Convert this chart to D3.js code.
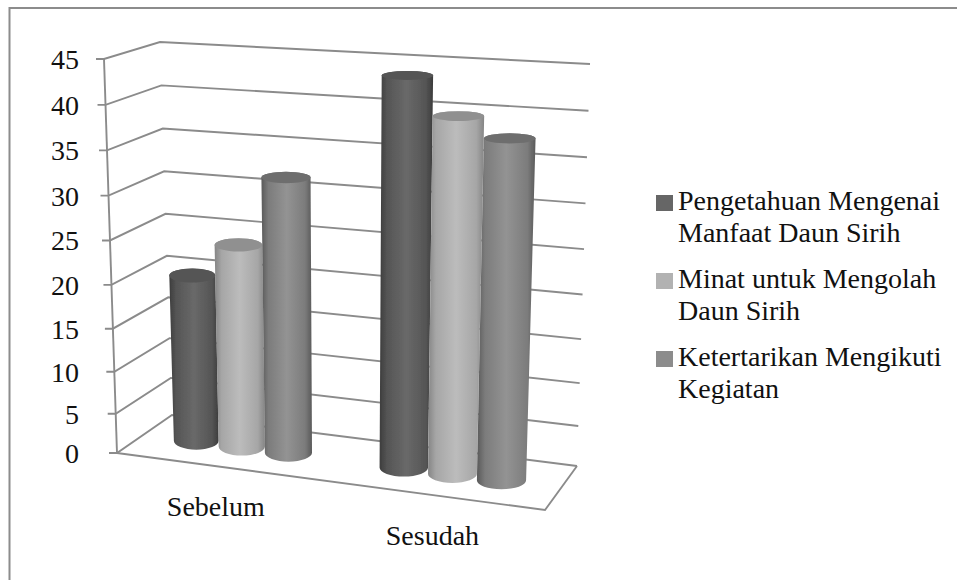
<!DOCTYPE html>
<html><head><meta charset="utf-8">
<script src="https://cdn.jsdelivr.net/npm/d3@7"></script>
<style>html,body{margin:0;padding:0;background:#fff;overflow:hidden}svg{display:block}
text{font-family:"Liberation Serif",serif;fill:#111;font-size:28px}</style>
</head><body><div id="c"></div>
<script>
const categories = ["Sebelum", "Sesudah"];
const seriesNames = ["Pengetahuan Mengenai Manfaat Daun Sirih", "Minat untuk Mengolah Daun Sirih", "Ketertarikan Mengikuti Kegiatan"];
const pengetahuan = [20, 44];
const minat = [24, 40];
const ketertarikan = [32, 38];
const tickValues = [0, 5, 10, 15, 20, 25, 30, 35, 40, 45];
const legendLines = [["Pengetahuan Mengenai", "Manfaat Daun Sirih"], ["Minat untuk Mengolah", "Daun Sirih"], ["Ketertarikan Mengikuti", "Kegiatan"]];
const seriesValues = [pengetahuan, minat, ketertarikan];
const W = 957, H = 580;
const shades = [
  {edge:"#3c3c3c", near:"#555555", mid:"#696969", top:"#555555", swatch:"#666666"},
  {edge:"#858585", near:"#a6a6a6", mid:"#bcbcbc", top:"#909090", swatch:"#b2b2b2"},
  {edge:"#5a5a5a", near:"#7c7c7c", mid:"#939393", top:"#6e6e6e", swatch:"#8c8c8c"}
];
// projected box corners
const FL=[117,453], FR=[545,510], BL=[172,415], BR=[577,466];
const TFL=[104,59], TFR=[559,87], TBL=[160,42], TBR=[590,64];
const lerp=(a,b,t)=>[a[0]+(b[0]-a[0])*t, a[1]+(b[1]-a[1])*t];
const bilerp=(a,b,c,d,u,v)=>lerp(lerp(a,b,u),lerp(c,d,u),v);
const yFrac = d3.scalePow().exponent(1.05).domain([0,45]).range([0,1]);
const uWarp = d3.scalePow().exponent(1.05).domain([0,1]).range([0,1]);
const xCat = d3.scaleBand().domain(categories).range([0,1]);
const xSer = d3.scaleBand().domain(seriesNames).range([-0.17,0.17]);
const project=(t,v,val)=>{const u=uWarp(t);return lerp(bilerp(FL,FR,BL,BR,u,v),bilerp(TFL,TFR,TBL,TBR,u,v),yFrac(val));};
const ryScale = d3.scaleLinear().domain([0,45]).range([9,4.4]);

const svg=d3.select("#c").append("svg").attr("width",W).attr("height",H);
const defs=svg.append("defs");
defs.append("filter").attr("id","soft").attr("x","-5%").attr("y","-5%").attr("width","110%").attr("height","110%")
  .append("feGaussianBlur").attr("stdDeviation",0.45);
shades.forEach((s,i)=>{
  const g=defs.append("linearGradient").attr("id","g"+i).attr("x1",0).attr("x2",1).attr("y1",0).attr("y2",0);
  [[0,s.edge],[0.14,s.near],[0.5,s.mid],[0.86,s.near],[1,s.edge]].forEach(([o,c])=>g.append("stop").attr("offset",o).attr("stop-color",c));
});
// outer frame
svg.append("path").attr("d",`M9.5,${H}V8H${W}`).attr("fill","none").attr("stroke","#8c8c8c").attr("stroke-width",2);

const gridG=svg.append("g").attr("fill","none").attr("stroke","#8b8b8b").attr("stroke-width",1.9).attr("filter","url(#soft)");
const line=d3.line();
tickValues.forEach(val=>{
  const t=yFrac(val), a=lerp(FL,TFL,t), b=lerp(BL,TBL,t), c=lerp(BR,TBR,t);
  gridG.append("path").attr("d",line([[a[0]-8,a[1]],a,b,c]));
});
gridG.append("path").attr("d",line([FL,TFL]));
gridG.append("path").attr("d",line([BR,FR,FL]));

// tick labels
svg.append("g").selectAll("text").data(tickValues).join("text")
  .attr("x",79).attr("text-anchor","end")
  .attr("y",d=>lerp(FL,TFL,yFrac(d))[1]+10).text(d=>d);

// bars
const barsG=svg.append("g").attr("filter","url(#soft)");
categories.forEach((cat,ci)=>{
  seriesNames.forEach((name,si)=>{
    const val=seriesValues[si][ci];
    const tc=xCat(cat)+xCat.bandwidth()/2+xSer(name)+xSer.bandwidth()/2, hw=xSer.bandwidth()/2;
    const lb=project(tc-hw,0.5,0), rb=project(tc+hw,0.5,0), lt=project(tc-hw,0.5,val), rt=project(tc+hw,0.5,val);
    const cyB=(lb[1]+rb[1])/2, cyT=(lt[1]+rt[1])/2, rxB=(rb[0]-lb[0])/2, rxT=(rt[0]-lt[0])/2, ryB=ryScale(0), ryT=ryScale(val);
    barsG.append("path")
      .attr("d",`M${lt[0]},${cyT}L${lb[0]},${cyB}A${rxB},${ryB} 0 0 0 ${rb[0]},${cyB}L${rt[0]},${cyT}A${rxT},${ryT} 0 0 0 ${lt[0]},${cyT}Z`)
      .attr("fill",`url(#g${si})`);
    barsG.append("ellipse").attr("cx",(lt[0]+rt[0])/2).attr("cy",cyT).attr("rx",rxT).attr("ry",ryT).attr("fill",shades[si].top);
  });
});

// category labels
svg.append("g").selectAll("text").data(categories).join("text")
  .attr("text-anchor","middle")
  .attr("x",d=>project(xCat(d)+xCat.bandwidth()/2,0,0)[0]-1)
  .attr("y",d=>project(xCat(d)+xCat.bandwidth()/2,0,0)[1]+49.5)
  .text(d=>d);

// legend
const legendRow=d3.scaleBand().domain(seriesNames).range([195,429]);
const leg=svg.append("g").selectAll("g").data(seriesNames).join("g")
  .attr("transform",d=>`translate(656,${legendRow(d)})`);
leg.append("rect").attr("width",17).attr("height",16).attr("fill",(d,i)=>shades[i].swatch);
leg.each(function(d,i){
  const g=d3.select(this);
  legendLines[i].forEach((l,j)=>g.append("text").attr("x",22).attr("y",15+j*32).text(l));
});
</script></body></html>
